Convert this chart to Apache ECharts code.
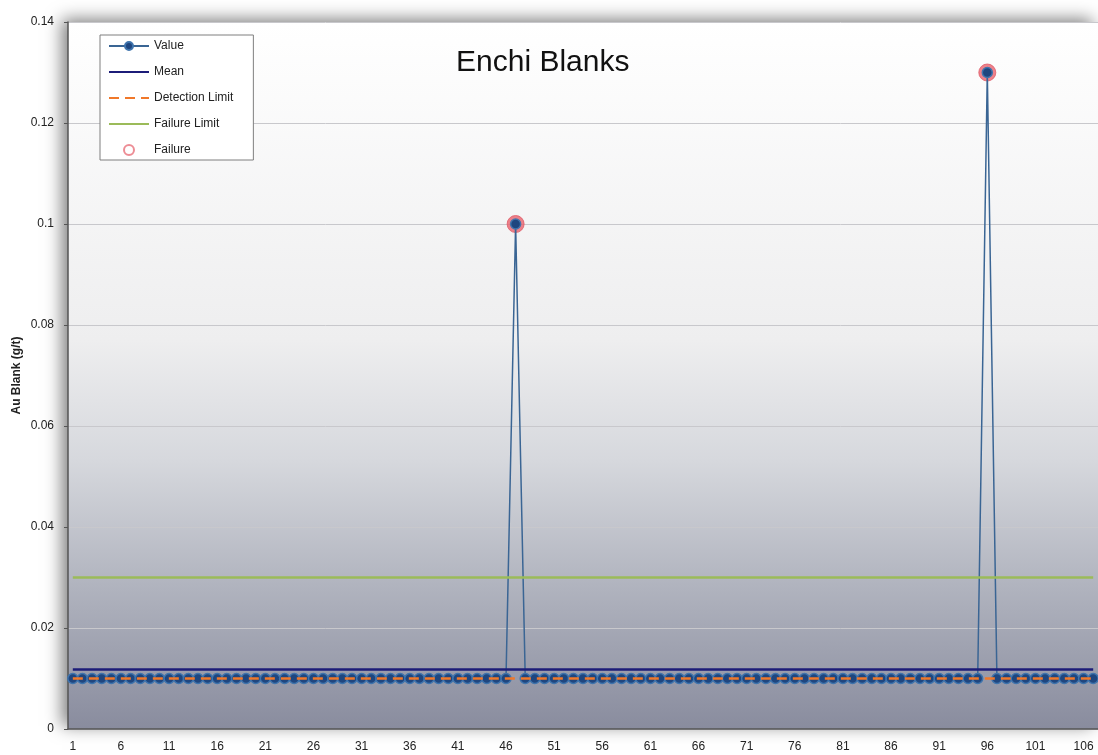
<!DOCTYPE html>
<html>
<head>
<meta charset="utf-8">
<script src="https://cdn.jsdelivr.net/npm/echarts@6/dist/echarts.min.js"></script>
<style>
  html,body{margin:0;padding:0;background:#fff;}
  #main{width:1098px;height:755px;}
</style>
</head>
<body>
<div id="main"></div>
<script>
// sample numbers 1..107 (chart is cropped on the right)
const categories = [];
for (let i = 1; i <= 107; i++) categories.push(String(i));

// Au blank assays (g/t): all at detection limit except two failures
const values = [
  0.01,0.01,0.01,0.01,0.01,0.01,0.01,0.01,0.01,0.01,
  0.01,0.01,0.01,0.01,0.01,0.01,0.01,0.01,0.01,0.01,
  0.01,0.01,0.01,0.01,0.01,0.01,0.01,0.01,0.01,0.01,
  0.01,0.01,0.01,0.01,0.01,0.01,0.01,0.01,0.01,0.01,
  0.01,0.01,0.01,0.01,0.01,0.01,0.10,0.01,0.01,0.01,
  0.01,0.01,0.01,0.01,0.01,0.01,0.01,0.01,0.01,0.01,
  0.01,0.01,0.01,0.01,0.01,0.01,0.01,0.01,0.01,0.01,
  0.01,0.01,0.01,0.01,0.01,0.01,0.01,0.01,0.01,0.01,
  0.01,0.01,0.01,0.01,0.01,0.01,0.01,0.01,0.01,0.01,
  0.01,0.01,0.01,0.01,0.01,0.13,0.01,0.01,0.01,0.01,
  0.01,0.01,0.01,0.01,0.01,0.01,0.01
];

const meanValue = 0.0119;
const detectionLimit = 0.01;
const failureLimit = 0.03;
const yTicks = [0, 0.02, 0.04, 0.06, 0.08, 0.1, 0.12, 0.14];

// points above the failure limit get the red ring
const failures = values.map(v => (v > failureLimit ? v : null));

const first = categories[0];
const last = categories[categories.length - 1];
function hline(v) {
  return [[{ coord: [first, v] }, { coord: [last, v] }]];
}

const chart = echarts.init(document.getElementById('main'));
const font = 'Arial, "Liberation Sans", sans-serif';
const noDot = { opacity: 0 };

const option = {
  backgroundColor: '#ffffff',
  animation: false,
  title: {
    text: 'Enchi Blanks',
    left: 451,
    top: 43,
    textStyle: { fontFamily: font, fontSize: 30, fontWeight: 'normal', color: '#111' }
  },
  legend: {
    orient: 'vertical',
    left: 100,
    top: 35,
    backgroundColor: '#ffffff',
    borderColor: '#7f7f7f',
    borderWidth: 1,
    borderRadius: 0,
    padding: [5, 20, 4, 8],
    itemWidth: 40,
    itemHeight: 10,
    itemGap: 14,
    textStyle: { fontFamily: font, fontSize: 12, color: '#222' },
    data: [
      'Value',
      { name: 'Mean', itemStyle: noDot },
      { name: 'Detection Limit', itemStyle: noDot },
      { name: 'Failure Limit', itemStyle: noDot },
      { name: 'Failure', icon: 'emptyCircle', itemStyle: { color: '#e8707a' } }
    ]
  },
  grid: {
    left: 68,
    top: 22,
    right: 0,
    height: 707,
    outerBoundsMode: 'none',
    show: true,
    borderWidth: 0,
    backgroundColor: {
      type: 'linear', x: 0, y: 0, x2: 0, y2: 1,
      colorStops: [
        { offset: 0, color: '#ffffff' },
        { offset: 0.45, color: '#eeeeef' },
        { offset: 0.62, color: '#d6d8dd' },
        { offset: 0.8, color: '#b0b3be' },
        { offset: 1, color: '#898c9e' }
      ]
    },
    shadowBlur: 16,
    shadowColor: 'rgba(0,0,0,0.5)',
    shadowOffsetX: -6,
    shadowOffsetY: -3
  },
  xAxis: {
    type: 'category',
    data: categories,
    boundaryGap: true,
    axisLine: { lineStyle: { color: '#555', width: 1.5 } },
    axisTick: { show: false },
    axisLabel: { interval: 4, margin: 12, fontFamily: font, fontSize: 12, color: '#222' }
  },
  yAxis: {
    type: 'value',
    min: yTicks[0],
    max: yTicks[yTicks.length - 1],
    interval: 0.02,
    name: 'Au Blank (g/t)',
    nameLocation: 'middle',
    nameGap: 45,
    nameMoveOverlap: false,
    nameTextStyle: { fontFamily: font, fontSize: 12, fontWeight: 'bold', color: '#222' },
    axisLine: { show: true, lineStyle: { color: '#555', width: 1.5 } },
    axisTick: { show: true, inside: false, length: 4, lineStyle: { color: '#555' } },
    axisLabel: { margin: 14, fontFamily: font, fontSize: 12, color: '#222' },
    splitLine: { lineStyle: { color: '#c8c8cc', width: 1 } }
  },
  series: [
    {
      name: 'Failure',
      type: 'scatter',
      data: failures,
      symbol: 'circle',
      symbolSize: 17,
      z: 2,
      itemStyle: { color: '#e8636e', borderColor: '#e05a66', borderWidth: 1 }
    },
    {
      name: 'Value',
      type: 'line',
      data: values,
      z: 3,
      symbol: 'circle',
      symbolSize: 10,
      showAllSymbol: true,
      lineStyle: { color: '#3a6594', width: 1.5 },
      itemStyle: { color: '#1f467f', borderColor: '#3f74ad', borderWidth: 1.5 }
    },
    {
      name: 'Mean',
      type: 'line',
      data: [],
      symbol: 'none',
      z: 4,
      lineStyle: { color: '#1c1c78', width: 2.5 },
      itemStyle: { color: '#1c1c78' },
      markLine: {
        silent: true, symbol: ['none', 'none'], label: { show: false },
        lineStyle: { color: '#1c1c78', width: 2.5, type: 'solid' },
        data: hline(meanValue)
      }
    },
    {
      name: 'Detection Limit',
      type: 'line',
      data: [],
      symbol: 'none',
      z: 5,
      lineStyle: { color: '#f0782a', width: 2.5, type: [10, 6] },
      itemStyle: { color: '#f0782a' },
      markLine: {
        silent: true, symbol: ['none', 'none'], label: { show: false },
        z: 5,
        lineStyle: { color: '#f0782a', width: 2.5, type: [10, 6] },
        data: hline(detectionLimit)
      }
    },
    {
      name: 'Failure Limit',
      type: 'line',
      data: [],
      symbol: 'none',
      z: 4,
      lineStyle: { color: '#9bbb59', width: 2.5 },
      itemStyle: { color: '#9bbb59' },
      markLine: {
        silent: true, symbol: ['none', 'none'], label: { show: false },
        lineStyle: { color: '#9bbb59', width: 2.5, type: 'solid' },
        data: hline(failureLimit)
      }
    }
  ]
};

chart.setOption(option);
</script>
</body>
</html>
